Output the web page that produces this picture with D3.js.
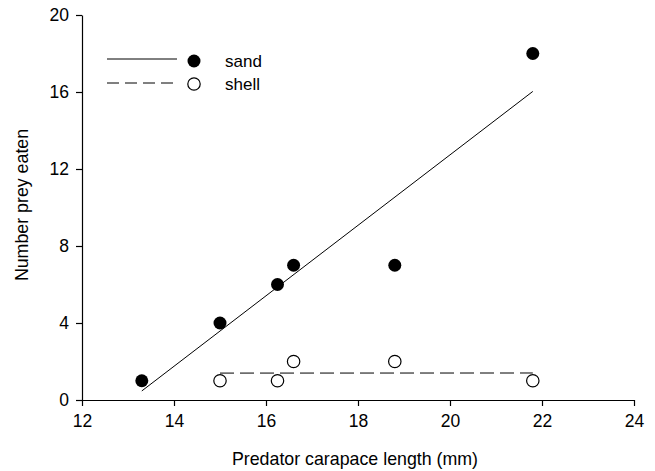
<!DOCTYPE html>
<html>
<head>
<meta charset="utf-8">
<script src="https://cdn.jsdelivr.net/npm/d3@7"></script>
<style>
  body { margin: 0; background: #fff; }
  svg { font-family: "Liberation Sans", Arial, sans-serif; }
</style>
</head>
<body>
<svg id="chart" width="655" height="471"></svg>
<script>
// data
var sandX = [13.3, 15.0, 16.25, 16.6, 18.8, 21.8];
var sandY = [1, 4, 6, 7, 7, 18];
var shellX = [15.0, 16.25, 16.6, 18.8, 21.8];
var shellY = [1, 1, 2, 2, 1];
var xTicks = [12, 14, 16, 18, 20, 22, 24];
var yTicks = [0, 4, 8, 12, 16, 20];

var svg = d3.select("#chart");
var margin = { left: 82, right: 21, top: 15, bottom: 71 };
var W = 655, H = 471;

var x = d3.scaleLinear().domain([12, 24]).range([margin.left, W - margin.right]);
var y = d3.scaleLinear().domain([0, 20]).range([H - margin.bottom, margin.top]);

// least squares fit, drawn over the range of the data
function fit(xs, ys) {
    var mx = d3.mean(xs), my = d3.mean(ys);
    var sxy = d3.sum(xs, function (v, i) { return (v - mx) * (ys[i] - my); });
    var sxx = d3.sum(xs, function (v) { return (v - mx) * (v - mx); });
    var b = sxy / sxx, a = my - b * mx;
    var x0 = d3.min(xs), x1 = d3.max(xs);
    return [[x0, a + b * x0], [x1, a + b * x1]];
}

var line = d3.line().x(function (d) { return x(d[0]); }).y(function (d) { return y(d[1]); });

svg.append("path").attr("d", line(fit(sandX, sandY)))
    .attr("fill", "none").attr("stroke", "#000").attr("stroke-width", 1);
svg.append("path").attr("d", line(fit(shellX, shellY)))
    .attr("fill", "none").attr("stroke", "#000").attr("stroke-width", 1)
    .attr("stroke-dasharray", "14,6");

// axes
var xAxis = svg.append("g").attr("transform", "translate(0," + y(0) + ")")
    .call(d3.axisBottom(x).tickValues(xTicks).tickSizeOuter(0).tickSizeInner(6).tickPadding(9));
var yAxis = svg.append("g").attr("transform", "translate(" + x(12) + ",0)")
    .call(d3.axisLeft(y).tickValues(yTicks).tickSizeOuter(0).tickSizeInner(6).tickPadding(7));

[xAxis, yAxis].forEach(function (g) {
    g.selectAll("path, line").attr("stroke", "#000").attr("stroke-width", 1.2);
    g.selectAll("text").attr("font-size", "17.5px").attr("fill", "#000")
        .attr("font-family", "Liberation Sans, Arial, sans-serif");
});

// points
svg.append("g").selectAll("circle")
    .data(sandX.map(function (v, i) { return [v, sandY[i]]; }))
    .enter().append("circle")
    .attr("cx", function (d) { return x(d[0]); })
    .attr("cy", function (d) { return y(d[1]); })
    .attr("r", 6.5).attr("fill", "#000");

svg.append("g").selectAll("circle")
    .data(shellX.map(function (v, i) { return [v, shellY[i]]; }))
    .enter().append("circle")
    .attr("cx", function (d) { return x(d[0]); })
    .attr("cy", function (d) { return y(d[1]); })
    .attr("r", 6.2).attr("fill", "#fff").attr("stroke", "#000").attr("stroke-width", 1.2);

// axis titles
svg.append("text").attr("x", 355).attr("y", 465).attr("text-anchor", "middle")
    .attr("font-size", "17.8px").text("Predator carapace length (mm)");
svg.append("text").attr("transform", "translate(28,205) rotate(-90)").attr("text-anchor", "middle")
    .attr("font-size", "17.8px").text("Number prey eaten");

// legend
var legend = svg.append("g");
legend.append("line").attr("x1", 107).attr("x2", 177).attr("y1", 59).attr("y2", 59)
    .attr("stroke", "#000").attr("stroke-width", 1);
legend.append("circle").attr("cx", 194).attr("cy", 61).attr("r", 6.5).attr("fill", "#000");
legend.append("text").attr("x", 225).attr("y", 67).attr("font-size", "17px").text("sand");
legend.append("line").attr("x1", 107).attr("x2", 177).attr("y1", 83).attr("y2", 83)
    .attr("stroke", "#000").attr("stroke-width", 1).attr("stroke-dasharray", "12,6");
legend.append("circle").attr("cx", 194).attr("cy", 84).attr("r", 6.2)
    .attr("fill", "#fff").attr("stroke", "#000").attr("stroke-width", 1.2);
legend.append("text").attr("x", 225).attr("y", 90).attr("font-size", "17px").text("shell");
</script>
</body>
</html>
